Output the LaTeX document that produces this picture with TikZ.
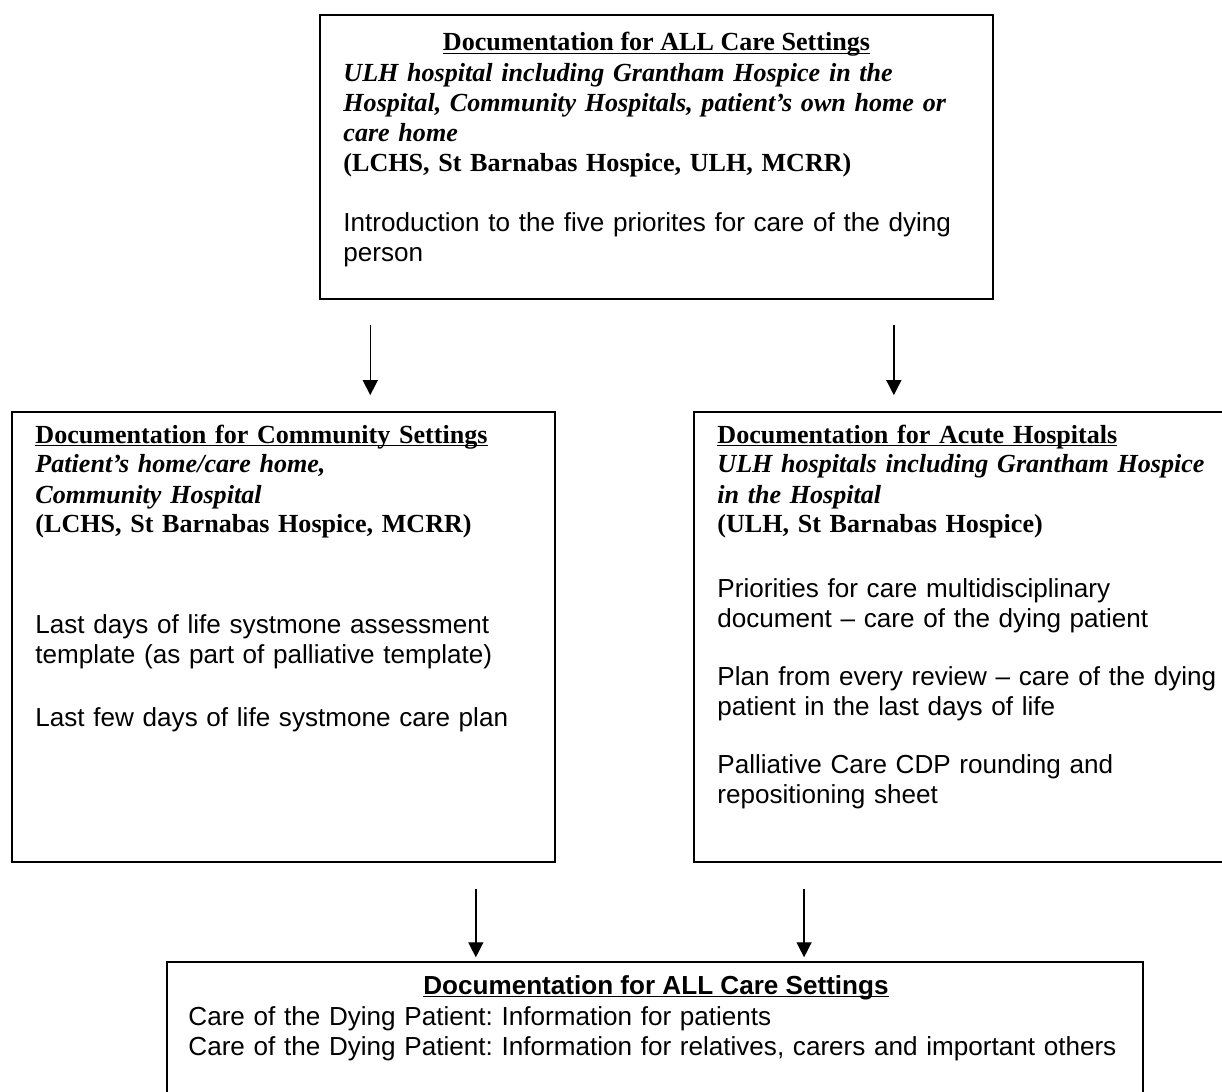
\documentclass[tikz,border=0pt]{standalone}
\usepackage{fontspec}
\setmainfont{Liberation Serif}
\newfontfamily\arialfont{Liberation Sans}
\usetikzlibrary{arrows.meta,positioning,calc}
\newlength\pxu
\setlength\pxu{0.46pt}
\newcommand\ulined[1]{\setbox0\hbox{#1}\rlap{\rule[-1.3pt]{\wd0}{0.6pt}}\box0}
\frenchspacing

\begin{document}
\begin{tikzpicture}[x=0.46pt,y=-0.46pt,
  box/.style={draw=black,line width=0.74pt,inner sep=0pt},
  heading/.style={anchor=base,inner sep=0pt,font=\fontsize{12}{13.8}\selectfont},
  body/.style={anchor=base west,inner sep=0pt,align=left,text width=#1,
    font=\fontsize{12}{13.8}\selectfont},
  body/.default=294pt,
  arrow/.style={-{Triangle[width=6.9pt,length=6.9pt]},line width=0.64pt,draw=black},
  upper/.style={shorten <=11.5pt,shorten >=7.4pt},
  lower/.style={shorten <=12pt,shorten >=1.8pt}
]
\useasboundingbox (0,0) rectangle (1222,1092);
% boxes
\node[box,minimum width=309.6pt,minimum height=130.6pt] (allsettings) at (656.5,157) {};
\node[box,minimum width=249.8pt,minimum height=207pt] (community) at (283.5,637) {};
\node[box,minimum width=257.6pt,minimum height=207pt] (acute) at (974,637) {};
\node[box,minimum width=449pt,minimum height=82.8pt] (leaflets) at (655,1052) {};
% texts
\node[heading] (allsettingstitle) at (656.5,51) {\ulined{\textbf{Documentation for ALL Care Settings}}};
\node[body] (allsettingstext) at (343,82) {{\bfseries\itshape ULH hospital including Grantham Hospice in the\\
  Hospital, Community Hospitals, patient’s own home or\\
  care home}\\
  \textbf{(LCHS, St Barnabas Hospice, ULH, MCRR)}\\[30\pxu]
  {\arialfont Introduction to the five priorites for care of the dying\\
  person}};
\node[body=240pt] (communitytext) at (35,443) {\ulined{\textbf{Documentation for Community Settings}}\\
  {\bfseries\itshape Patient’s home/care home,\\
  Community Hospital}\\
  \textbf{(LCHS, St Barnabas Hospice, MCRR)}\\[71\pxu]
  {\arialfont Last days of life systmone assessment\\
  template (as part of palliative template)\\[33\pxu]
  Last few days of life systmone care plan}};
\node[body=240pt] (acutetext) at (717,443) {\ulined{\textbf{Documentation for Acute Hospitals}}\\
  {\bfseries\itshape ULH hospitals including Grantham Hospice\\
  in the Hospital}\\
  \textbf{(ULH, St Barnabas Hospice)}\\[35\pxu]
  {\arialfont Priorities for care multidisciplinary\\
  document – care of the dying patient\\[28\pxu]
  Plan from every review – care of the dying\\
  patient in the last days of life\\[28\pxu]
  Palliative Care CDP rounding and\\
  repositioning sheet}};
\node[heading] (leafletstitle) at (656,994) {\arialfont\bfseries\ulined{Documentation for ALL Care Settings}};
\node[body=440pt] (leafletstext) at (188,1025) {{\arialfont Care of the Dying Patient: Information for patients\\
  Care of the Dying Patient: Information for relatives, carers and important others}};
% arrows
\draw[arrow,upper] ([xshift=23.5pt]allsettings.south west) -- ([xshift=23.5pt]allsettings.south west |- community.north);
\draw[arrow,upper] ([xshift=-46pt]allsettings.south east) -- ([xshift=-46pt]allsettings.south east |- acute.north);
\draw[arrow,lower] ([xshift=-36.8pt]community.south east) -- ([xshift=-36.8pt]community.south east |- leaflets.north);
\draw[arrow,lower] ([xshift=51pt]acute.south west) -- ([xshift=51pt]acute.south west |- leaflets.north);
\end{tikzpicture}
\end{document}
